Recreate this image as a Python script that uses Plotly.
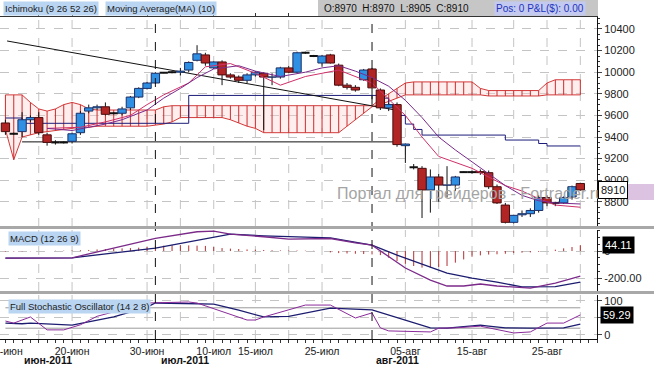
import plotly.graph_objects as go

# ---------------- data ----------------
dates = [
    "2011-06-10", "2011-06-12", "2011-06-13", "2011-06-14", "2011-06-15", "2011-06-16", "2011-06-17",
    "2011-06-19", "2011-06-20", "2011-06-21", "2011-06-22", "2011-06-23", "2011-06-24",
    "2011-06-26", "2011-06-27", "2011-06-28", "2011-06-29", "2011-06-30", "2011-07-01",
    "2011-07-03", "2011-07-04", "2011-07-05", "2011-07-06", "2011-07-07", "2011-07-08",
    "2011-07-10", "2011-07-11", "2011-07-12", "2011-07-13", "2011-07-14", "2011-07-15",
    "2011-07-17", "2011-07-18", "2011-07-19", "2011-07-20", "2011-07-21", "2011-07-22",
    "2011-07-24", "2011-07-25", "2011-07-26", "2011-07-27", "2011-07-28", "2011-07-29",
    "2011-07-31", "2011-08-01", "2011-08-02", "2011-08-03", "2011-08-04", "2011-08-05",
    "2011-08-07", "2011-08-08", "2011-08-09", "2011-08-10", "2011-08-11", "2011-08-12",
    "2011-08-14", "2011-08-15", "2011-08-16", "2011-08-17", "2011-08-18", "2011-08-19",
    "2011-08-21", "2011-08-22", "2011-08-23", "2011-08-24", "2011-08-25", "2011-08-26",
    "2011-08-28", "2011-08-29", "2011-08-30",
]
opens = [9530, 9430, 9450, 9560, 9580, 9420, 9350,
         9350, 9360, 9440, 9640, 9670, 9680,
         9620, 9620, 9670, 9770, 9850, 9900,
         9995, 10000, 10000, 10020, 10110, 10160,
         10040, 10095, 9975, 9955, 9925, 9975,
         9990, 9955, 9955, 10040, 10000, 10180,
         10150, 10085, 10160, 10065, 9880, 9860,
         9930, 10030, 9835, 9670, 9700, 9320,
         9120, 9110, 8910, 9030, 8955, 8955,
         9075, 9075, 9080, 9070, 8940, 8770,
         8610, 8680, 8690, 8720, 8840, 8790,
         8790, 8845, 8970]
highs = [9560, 9440, 9630, 9600, 9630, 9440, 9370,
         9360, 9440, 9640, 9700, 9700, 9720,
         9630, 9680, 9780, 9860, 9910, 10000,
         10000, 10010, 10040, 10100, 10250, 10180,
         10100, 10110, 9990, 9970, 9990, 10010,
         10000, 9990, 10050, 10060, 10190, 10190,
         10160, 10160, 10170, 10080, 9900, 9880,
         10030, 10040, 9850, 9720, 9720, 9340,
         9150, 9130, 9100, 9060, 9130, 9040,
         9080, 9090, 9100, 9090, 8960, 8790,
         8680, 8720, 8740, 8860, 8860, 8800,
         8850, 8950, 8970]
lows = [9420, 9420, 9400, 9540, 9420, 9320, 9330,
        9340, 9340, 9420, 9620, 9650, 9600,
        9610, 9600, 9650, 9760, 9840, 9890,
        9990, 9990, 9970, 10000, 10100, 10060,
        10030, 9880, 9940, 9900, 9900, 9960,
        9465, 9880, 9940, 9990, 9990, 10170,
        10140, 10050, 10080, 9870, 9840, 9820,
        9920, 9750, 9650, 9640, 9310, 9160,
        9100, 8650, 8700, 8800, 8840, 8900,
        9070, 9060, 9050, 8920, 8780, 8600,
        8600, 8660, 8660, 8700, 8760, 8760,
        8780, 8820, 8905]
closes = [9450, 9430, 9560, 9580, 9440, 9350, 9350,
          9350, 9430, 9620, 9670, 9680, 9610,
          9620, 9660, 9770, 9850, 9900, 9990,
          9995, 10000, 10010, 10090, 10170, 10085,
          10095, 9975, 9955, 9925, 9975, 10000,
          9955, 9960, 10040, 10000, 10180, 10180,
          10150, 10150, 10085, 9880, 9860, 9835,
          10020, 9855, 9670, 9700, 9330, 9335,
          9120, 8910, 9030, 8955, 8960, 9030,
          9075, 9075, 9070, 8940, 8790, 8610,
          8675, 8690, 8720, 8840, 8790, 8790,
          8840, 8940, 8910]

# Ichimoku cloud spans (per bar)
span_a = [9790, 9790, 9790, 9720, 9660, 9640, 9660, 9700, 9720, 9700, 9660, 9650, 9650,
          9650, 9650, 9650, 9650, 9650, 9650, 9680, 9690, 9690, 9690, 9690, 9690,
          9690, 9690, 9690, 9690, 9690, 9690, 9690, 9690, 9690, 9690, 9690, 9690,
          9690, 9690, 9690, 9690, 9690, 9690, 9690, 9690, 9750, 9800, 9850, 9900,
          9910, 9910, 9910, 9910, 9910, 9910, 9910, 9910, 9850, 9830, 9830, 9830,
          9830, 9830, 9830, 9830, 9900, 9930, 9930, 9930, 9930]
span_b = [9470, 9190, 9400, 9420, 9440, 9450, 9460, 9470, 9480, 9490, 9490, 9500, 9500,
          9500, 9500, 9500, 9500, 9500, 9510, 9520, 9540, 9580, 9580, 9580, 9580,
          9580, 9580, 9560, 9530, 9500, 9480, 9440, 9440, 9440, 9440, 9440, 9440,
          9440, 9440, 9440, 9440, 9500, 9560, 9620, 9680, 9700, 9730, 9760, 9790,
          9790, 9790, 9790, 9790, 9790, 9790, 9790, 9790, 9790, 9780, 9780, 9780,
          9780, 9780, 9780, 9780, 9790, 9790, 9790, 9790, 9790]

kijun_bar = [0, 2, 22, 45, 46, 47, 48, 49, 50, 60, 64, 65, 69]
kijun_val = [9576, 9527, 9785, 9760, 9700, 9600, 9520, 9470, 9418, 9372, 9340, 9317, 9317]

tenkan_bar = [5, 9, 12, 15, 17, 19, 22, 24, 27, 30, 33, 36, 40, 44, 46, 48, 50, 52, 56, 60, 62, 64, 66, 69]
tenkan_val = [9480, 9490, 9540, 9600, 9700, 9790, 9900, 10050, 10080, 9990, 9880, 9960, 10020,
              9900, 9750, 9600, 9400, 9220, 9110, 8950, 8900, 8830, 8770, 8750]

ma_bar = [5, 8, 12, 14, 17, 19, 21, 23, 25, 28, 30, 33, 36, 38, 40, 42, 44, 46, 48, 50, 52, 54,
          56, 58, 60, 62, 64, 66, 69]
ma_val = [9480, 9460, 9520, 9560, 9650, 9760, 9850, 9950, 10030, 10060, 10010, 9960, 10000,
          10040, 10060, 10010, 9950, 9870, 9740, 9580, 9400, 9280, 9170, 9060, 8950, 8860,
          8810, 8790, 8780]

trend_bar = [0.2, 46.8]
trend_val = [10289, 9650]
support_bar = [2, 47.5]
support_val = [9355, 9355]

macd_bar = [0, 8, 18, 23, 25, 27, 31, 34, 39, 42, 44, 48, 51, 53, 55, 57, 59, 62, 63, 66, 69]
macd_val = [-52, -50, 94, 143, 148, 125, 106, 89, 93, 60, 44, -126, -215, -259, -259, -244,
            -259, -274, -274, -237, -185]
signal_bar = [0, 8, 18, 25, 27, 31, 39, 44, 47, 53, 56, 59, 62, 66, 69]
signal_val = [-52, -50, 22, 106, 125, 113, 98, 44, -30, -163, -200, -230, -266, -263, -230]
hist_val = [-4, -4, -3, -2, 0, 1, 2, 3, 5, 6, 8, 12, 15, 18, 20, 22, 25, 30,
            35, 40, 44, 44, 42, 40, 38, 30, 22, 18, 15, 12, 10, 8, 6, 5, 4, 4, 3, 2, 0,
            -10, -15, -18, -20, -22, -25, -30, -50, -74, -95, -111, -123, -123, -118, -111,
            -86, -62, -42, -32, -26, -24, -20, -15, -12, -10, -6, 0, 10, 20, 30, 44]

stoch_k_bar = [0, 1, 3, 5, 7, 9, 11, 17, 22, 23, 29, 30, 31, 36, 39, 42, 44, 45, 46, 49, 51,
               52, 54, 57, 61, 63, 65, 67, 69]
stoch_k_val = [41, 35, 53, 15, 15, 30, 55, 94, 97, 94, 44, 44, 53, 88, 88, 50, 65, 21, 12, 9, 9,
               20, 21, 26, 6, 9, 35, 35, 59]
stoch_d_bar = [0, 2, 3, 8, 13, 17, 18, 22, 25, 28, 31, 34, 39, 44, 51, 53, 57, 58, 60, 63, 67, 69]
stoch_d_val = [35, 33, 35, 29, 53, 82, 94, 93, 91, 73, 53, 55, 79, 74, 21, 20, 29, 26, 21, 20, 21, 32]

tick_dates = ["2011-06-10", "2011-06-20", "2011-06-30", "2011-07-10", "2011-07-15",
              "2011-07-25", "2011-08-05", "2011-08-15", "2011-08-25"]
tick_labels = ["10-июн", "20-июн", "30-июн", "10-июл", "15-июл", "25-июл", "05-авг", "15-авг", "25-авг"]
grid_dates = ["2011-06-15", "2011-06-20", "2011-06-30", "2011-07-05", "2011-07-10", "2011-07-15",
              "2011-07-20", "2011-07-25", "2011-08-05", "2011-08-10", "2011-08-15", "2011-08-21",
              "2011-08-25", "2011-08-30"]
month_dates = ["2011-07-01", "2011-08-01"]
price_ticks = [8800, 9000, 9200, 9400, 9600, 9800, 10000, 10200, 10400]

# ---------------- layout helpers ----------------
W, H = 654, 366
def px(x):
    return x / W
def py(y):
    return 1 - y / H

XDOM = [0, px(597)]
D_MAIN = [py(227), py(17)]
D_MACD = [py(291), py(230)]
D_STO = [py(339), py(295)]
XR = [-0.65, 71.0]

bars = list(range(len(dates)))
UP_FILL, UP_LINE = "#2f8fe3", "#1b2f66"
DN_FILL, DN_LINE = "#b22525", "#4a0b0b"
FONT = "Arial, Liberation Sans, sans-serif"

fig = go.Figure()

# cloud fill + hatch + borders
fig.add_trace(go.Scatter(x=bars, y=span_a, mode="lines", line=dict(color="#d23a3a", width=1),
                         xaxis="x", yaxis="y", hoverinfo="skip"))
fig.add_trace(go.Scatter(x=bars, y=span_b, mode="lines", line=dict(color="#d23a3a", width=1),
                         fill="tonexty", fillcolor="rgba(255,205,205,0.35)",
                         xaxis="x", yaxis="y", hoverinfo="skip"))
hx, hy = [], []
for i, (a, b) in enumerate(zip(span_a, span_b)):
    hx += [i, i, None]
    hy += [a, b, None]
fig.add_trace(go.Scatter(x=hx, y=hy, mode="lines", line=dict(color="#cc2b2b", width=1),
                         xaxis="x", yaxis="y", hoverinfo="skip"))

# kijun
fig.add_trace(go.Scatter(x=kijun_bar, y=kijun_val, mode="lines", line=dict(color="#1c1c7a", width=1, shape="hv"),
                         xaxis="x", yaxis="y", hoverinfo="skip"))
# trend line & support
fig.add_trace(go.Scatter(x=trend_bar, y=trend_val, mode="lines", line=dict(color="#111111", width=1),
                         xaxis="x", yaxis="y", hoverinfo="skip"))
fig.add_trace(go.Scatter(x=support_bar, y=support_val, mode="lines", line=dict(color="#111111", width=1),
                         xaxis="x", yaxis="y", hoverinfo="skip"))

# candles: wicks
wx, wy = [], []
dx, dy = [], []
for i, (o, h, l, c) in enumerate(zip(opens, highs, lows, closes)):
    top, bot = max(o, c), min(o, c)
    wx += [i, i, None, i, i, None]
    wy += [h, top, None, bot, l, None]
    if o == c:
        dx += [i - 0.5, i + 0.5, None]
        dy += [c, c, None]
fig.add_trace(go.Scatter(x=wx, y=wy, mode="lines", line=dict(color="#111111", width=1),
                         xaxis="x", yaxis="y", hoverinfo="skip"))
fig.add_trace(go.Scatter(x=dx, y=dy, mode="lines", line=dict(color="#111111", width=2),
                         xaxis="x", yaxis="y", hoverinfo="skip"))
# candles: bodies
hw = 0.5
for up in (True, False):
    bx, by = [], []
    for i, (o, c) in enumerate(zip(opens, closes)):
        if o == c or (c > o) != up:
            continue
        lo, hi = min(o, c), max(o, c)
        bx += [i - hw, i + hw, i + hw, i - hw, i - hw, None]
        by += [lo, lo, hi, hi, lo, None]
    fig.add_trace(go.Scatter(x=bx, y=by, mode="lines", fill="toself",
                             fillcolor=UP_FILL if up else DN_FILL,
                             line=dict(color=UP_LINE if up else DN_LINE, width=1),
                             xaxis="x", yaxis="y", hoverinfo="skip"))

# tenkan & MA
fig.add_trace(go.Scatter(x=tenkan_bar, y=tenkan_val, mode="lines", line=dict(color="#d0306a", width=1),
                         xaxis="x", yaxis="y", hoverinfo="skip"))
fig.add_trace(go.Scatter(x=ma_bar, y=ma_val, mode="lines", line=dict(color="#7a2a8c", width=1),
                         xaxis="x", yaxis="y", hoverinfo="skip"))

# MACD histogram + lines
mx, my = [], []
for i, v in enumerate(hist_val):
    mx += [i, i, None]
    my += [0, v, None]
fig.add_trace(go.Scatter(x=mx, y=my, mode="lines", line=dict(color="#b03030", width=1),
                         xaxis="x2", yaxis="y2", hoverinfo="skip"))
fig.add_trace(go.Scatter(x=signal_bar, y=signal_val, mode="lines", line=dict(color="#1c1c70", width=1.3),
                         xaxis="x2", yaxis="y2", hoverinfo="skip"))
fig.add_trace(go.Scatter(x=macd_bar, y=macd_val, mode="lines", line=dict(color="#7b2a8a", width=1.3),
                         xaxis="x2", yaxis="y2", hoverinfo="skip"))

# Stochastic
for lvl in (80, 20):
    fig.add_trace(go.Scatter(x=[bars[0], bars[-1]], y=[lvl, lvl], mode="lines",
                             line=dict(color="#9a9a9a", width=1), xaxis="x3", yaxis="y3", hoverinfo="skip"))
fig.add_trace(go.Scatter(x=stoch_d_bar, y=stoch_d_val, mode="lines", line=dict(color="#1c1c70", width=1.3),
                         xaxis="x3", yaxis="y3", hoverinfo="skip"))
fig.add_trace(go.Scatter(x=stoch_k_bar, y=stoch_k_val, mode="lines", line=dict(color="#8a2a9a", width=1),
                         xaxis="x3", yaxis="y3", hoverinfo="skip"))

grid_idx = [dates.index(d) for d in grid_dates]
tick_idx = [dates.index(d) for d in tick_dates]
month_idx = [dates.index(d) for d in month_dates]

shapes = []
for g in grid_idx:
    for yr in ("y domain", "y2 domain", "y3 domain"):
        xr = {"y domain": "x", "y2 domain": "x2", "y3 domain": "x3"}[yr]
        shapes.append(dict(type="line", xref=xr, yref=yr, x0=g, x1=g, y0=0, y1=1,
                           line=dict(color="#c4c4c4", width=1, dash="dash"), layer="below"))
for m in month_idx:
    shapes.append(dict(type="line", xref="x", yref="paper", x0=m, x1=m, y0=D_STO[0], y1=D_MAIN[1],
                       line=dict(color="#111111", width=1, dash="dash"), layer="above"))
# panel separators
for y0, y1 in ((226, 229), (291, 294)):
    shapes.append(dict(type="rect", xref="paper", yref="paper", x0=0, x1=1, y0=py(y1), y1=py(y0),
                       fillcolor="#a8a8a8", line=dict(width=0), layer="above"))
# header box
shapes.append(dict(type="rect", xref="paper", yref="paper", x0=px(318), x1=px(598), y0=py(16), y1=py(0),
                   fillcolor="#c6c6c6", line=dict(width=0)))
# lavender marker band on the price scale
shapes.append(dict(type="rect", xref="paper", yref="paper", x0=px(628), x1=1, y0=py(200), y1=py(184),
                   fillcolor="#dcc3e2", line=dict(width=0), layer="below"))

annotations = [
    dict(text="Ichimoku (9 26 52 26)", x=px(3), y=py(8), xref="paper", yref="paper", xanchor="left",
         yanchor="middle", showarrow=False, bgcolor="#b9d5f2", font=dict(family=FONT, size=9.5, color="#222")),
    dict(text="Moving Average(MA) (10)", x=px(105), y=py(8), xref="paper", yref="paper", xanchor="left",
         yanchor="middle", showarrow=False, bgcolor="#b9d5f2", font=dict(family=FONT, size=9.5, color="#222")),
    dict(text="O:8970  H:8970  L:8905  C:8910", x=px(322), y=py(8), xref="paper", yref="paper",
         xanchor="left", yanchor="middle", showarrow=False, font=dict(family=FONT, size=10, color="#111")),
    dict(text="Pos: 0 P&L($): 0.00", x=px(494), y=py(8), xref="paper", yref="paper", xanchor="left",
         yanchor="middle", showarrow=False, bgcolor="#c3c9ef", font=dict(family=FONT, size=10, color="#2233bb")),
    dict(text="MACD (12 26 9)", x=px(8), y=py(239), xref="paper", yref="paper", xanchor="left",
         yanchor="middle", showarrow=False, bgcolor="#b9d5f2", font=dict(family=FONT, size=9.5, color="#222")),
    dict(text="Full Stochastic Oscillator (14 2 8)", x=px(8), y=py(306), xref="paper", yref="paper",
         xanchor="left", yanchor="middle", showarrow=False, bgcolor="#b9d5f2",
         font=dict(family=FONT, size=9.5, color="#222")),
    dict(text="Портал для трейдеров - Fortrader.ru", x=px(335), y=py(193), xref="paper", yref="paper",
         xanchor="left", yanchor="middle", showarrow=False, font=dict(family=FONT, size=16, color="#a4a4a4")),
    dict(text="8910", x=px(598), y=8910, xref="paper", yref="y", xanchor="left", yanchor="middle",
         showarrow=False, bgcolor="white", bordercolor="black", borderwidth=1, borderpad=2,
         font=dict(family=FONT, size=11, color="#111")),
    dict(text="44.11", x=px(602), y=44.11, xref="paper", yref="y2", xanchor="left", yanchor="middle",
         showarrow=False, bgcolor="black", borderpad=2, font=dict(family=FONT, size=11, color="white")),
    dict(text="59.29", x=px(600), y=59.29, xref="paper", yref="y3", xanchor="left", yanchor="middle",
         showarrow=False, bgcolor="black", borderpad=2, font=dict(family=FONT, size=11, color="white")),
    dict(text="<b>июн-2011</b>", x=5.1, y=py(360), xref="x3", yref="paper", xanchor="center", yanchor="middle",
         showarrow=False, font=dict(family=FONT, size=10.5, color="#111")),
    dict(text="<b>июл-2011</b>", x=21.6, y=py(360), xref="x3", yref="paper", xanchor="center", yanchor="middle",
         showarrow=False, font=dict(family=FONT, size=10.5, color="#111")),
    dict(text="<b>авг-2011</b>", x=47, y=py(360), xref="x3", yref="paper", xanchor="center", yanchor="middle",
         showarrow=False, font=dict(family=FONT, size=10.5, color="#111")),
]

axfont = dict(family=FONT, size=11, color="#222")
fig.update_layout(
    width=W, height=H, margin=dict(l=0, r=0, t=0, b=0, autoexpand=False),
    paper_bgcolor="white", plot_bgcolor="white", showlegend=False,
    xaxis=dict(domain=XDOM, range=XR, anchor="y", side="top", showgrid=False, zeroline=False,
               showline=True, linecolor="#333", linewidth=1, ticks="outside", ticklen=3,
               tickcolor="#333", tickvals=grid_idx, showticklabels=False, automargin=False),
    xaxis2=dict(domain=XDOM, range=XR, anchor="y2", matches="x", showgrid=False, zeroline=False,
                showticklabels=False, showline=False, automargin=False),
    xaxis3=dict(domain=XDOM, range=XR, anchor="y3", matches="x", showgrid=False, zeroline=False,
                showline=True, linecolor="#111", linewidth=1, ticks="outside", ticklen=2,
                tickcolor="#333", tickvals=tick_idx, ticktext=tick_labels,
                tickfont=dict(family=FONT, size=10.5, color="#222"),
                ticklabeloverflow="allow", automargin=False,
                minor=dict(ticks="outside", ticklen=3, dtick=1, tick0=0, tickcolor="#333", showgrid=False)),
    yaxis=dict(domain=D_MAIN, range=[8567, 10511], anchor="x", side="right", showgrid=True,
               gridcolor="#c4c4c4", griddash="dash", zeroline=False, showline=True, linecolor="#111",
               ticks="outside", ticklen=4, tickvals=price_ticks, ticktext=[str(p) for p in price_ticks],
               tickfont=axfont, automargin=False,
               minor=dict(ticks="outside", ticklen=2, dtick=50, tickcolor="#333", showgrid=False)),
    yaxis2=dict(domain=D_MACD, range=[-296, 156], anchor="x2", side="right", showgrid=True,
                gridcolor="#c4c4c4", griddash="dash", zeroline=False, showline=True, linecolor="#111",
                ticks="outside", ticklen=4, tickvals=[-200, 0], ticktext=["-200.00", "0"], tickfont=axfont,
                automargin=False,
                minor=dict(ticks="outside", ticklen=2, dtick=50, tickcolor="#333", showgrid=False)),
    yaxis3=dict(domain=D_STO, range=[-11.8, 117.6], anchor="x3", side="right", showgrid=True,
                gridcolor="#c4c4c4", griddash="dash", zeroline=False, showline=True, linecolor="#111",
                ticks="outside", ticklen=4, tickvals=[0, 50, 100], ticktext=["0", "", "100"], tickfont=axfont,
                automargin=False),
    shapes=shapes, annotations=annotations,
)

fig.write_html("out.html")
